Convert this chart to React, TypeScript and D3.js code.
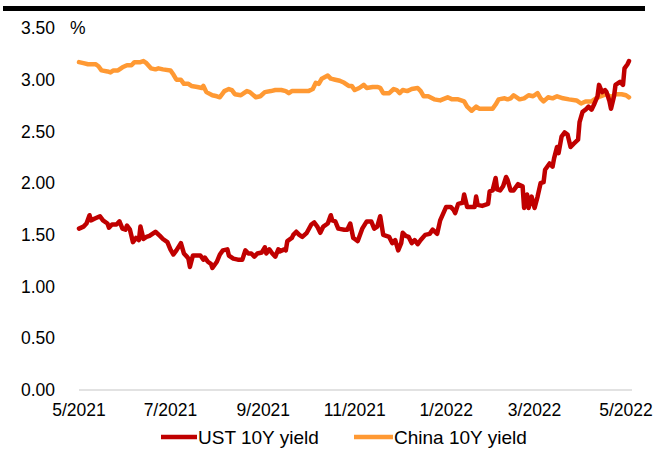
import React from "react";
import * as d3 from "d3";

const yTicks = [0, 0.5, 1, 1.5, 2, 2.5, 3, 3.5];
const xTickLabels = ["5/2021", "7/2021", "9/2021", "11/2021", "1/2022", "3/2022", "5/2022"];
const xTickDates = ["2021-05-01", "2021-07-01", "2021-09-01", "2021-11-01", "2022-01-01", "2022-03-01", "2022-05-01"];

const chinaDates = [
  "2021-05-01","2021-05-04","2021-05-07","2021-05-12","2021-05-14","2021-05-16","2021-05-20","2021-05-22","2021-05-24","2021-05-27",
  "2021-05-30","2021-06-02","2021-06-05","2021-06-07","2021-06-11","2021-06-13","2021-06-15","2021-06-18","2021-06-21","2021-06-23",
  "2021-06-26","2021-07-01","2021-07-03","2021-07-05","2021-07-08","2021-07-10","2021-07-13","2021-07-15","2021-07-19","2021-07-22",
  "2021-07-23","2021-07-25","2021-07-29","2021-08-01","2021-08-03","2021-08-06","2021-08-09","2021-08-11","2021-08-13","2021-08-17",
  "2021-08-19","2021-08-21","2021-08-23","2021-08-27","2021-08-30","2021-09-02","2021-09-06","2021-09-09","2021-09-13","2021-09-16",
  "2021-09-18","2021-09-20","2021-09-25","2021-10-01","2021-10-04","2021-10-06","2021-10-08","2021-10-10","2021-10-14","2021-10-16",
  "2021-10-19","2021-10-22","2021-10-25","2021-10-28","2021-10-30","2021-11-01","2021-11-04","2021-11-07","2021-11-09","2021-11-13",
  "2021-11-16","2021-11-18","2021-11-20","2021-11-24","2021-11-27","2021-11-29","2021-12-01","2021-12-03","2021-12-06","2021-12-09",
  "2021-12-13","2021-12-15","2021-12-17","2021-12-20","2021-12-24","2021-12-28","2022-01-02","2022-01-05","2022-01-09","2022-01-13",
  "2022-01-15","2022-01-18","2022-01-21","2022-01-23","2022-01-27","2022-02-01","2022-02-03","2022-02-05","2022-02-09","2022-02-11",
  "2022-02-13","2022-02-15","2022-02-19","2022-02-22","2022-02-25","2022-02-28","2022-03-03","2022-03-05","2022-03-07","2022-03-10",
  "2022-03-13","2022-03-16","2022-03-20","2022-03-24","2022-03-29","2022-04-01","2022-04-04","2022-04-08","2022-04-11","2022-04-14",
  "2022-04-18","2022-04-21","2022-04-24","2022-04-28","2022-05-01","2022-05-03"
];
const chinaValues = [
  3.17,3.16,3.15,3.15,3.13,3.09,3.08,3.07,3.09,3.09,
  3.12,3.14,3.14,3.17,3.17,3.18,3.16,3.11,3.10,3.11,
  3.10,3.09,3.05,3.00,3.00,2.96,2.96,2.94,2.93,2.92,
  2.94,2.88,2.85,2.84,2.83,2.89,2.91,2.90,2.86,2.85,
  2.87,2.89,2.88,2.83,2.84,2.88,2.89,2.90,2.90,2.89,
  2.87,2.89,2.89,2.89,2.91,2.97,2.96,3.01,3.04,3.01,
  3.00,2.99,2.97,2.94,2.94,2.90,2.92,2.95,2.92,2.93,
  2.93,2.92,2.87,2.87,2.91,2.90,2.87,2.90,2.89,2.91,
  2.92,2.89,2.84,2.84,2.81,2.80,2.83,2.81,2.81,2.79,
  2.74,2.70,2.74,2.72,2.72,2.72,2.76,2.81,2.82,2.81,
  2.82,2.85,2.81,2.82,2.85,2.84,2.87,2.82,2.79,2.83,
  2.82,2.84,2.82,2.81,2.80,2.77,2.79,2.79,2.82,2.84,
  2.86,2.83,2.86,2.86,2.85,2.83
];

const ustDates = [
  "2021-05-01","2021-05-04","2021-05-06","2021-05-08","2021-05-09","2021-05-12","2021-05-15","2021-05-17","2021-05-20","2021-05-21",
  "2021-05-23","2021-05-26","2021-05-28","2021-05-30","2021-06-01","2021-06-02","2021-06-04","2021-06-06","2021-06-08","2021-06-10",
  "2021-06-11","2021-06-13","2021-06-15","2021-06-17","2021-06-20","2021-06-21","2021-06-24","2021-06-26","2021-06-29","2021-07-01",
  "2021-07-03","2021-07-05","2021-07-08","2021-07-10","2021-07-12","2021-07-13","2021-07-14","2021-07-16","2021-07-19","2021-07-21",
  "2021-07-23","2021-07-24","2021-07-26","2021-07-28","2021-07-29","2021-08-01","2021-08-03","2021-08-05","2021-08-08","2021-08-09",
  "2021-08-12","2021-08-15","2021-08-18","2021-08-20","2021-08-22","2021-08-24","2021-08-26","2021-08-28","2021-08-31","2021-09-02",
  "2021-09-03","2021-09-05","2021-09-07","2021-09-09","2021-09-11","2021-09-12","2021-09-15","2021-09-16","2021-09-17","2021-09-20",
  "2021-09-21","2021-09-23","2021-09-25","2021-09-27","2021-09-30","2021-10-03","2021-10-05","2021-10-07","2021-10-09","2021-10-11",
  "2021-10-14","2021-10-16","2021-10-17","2021-10-19","2021-10-21","2021-10-25","2021-10-27","2021-10-29","2021-10-31","2021-11-01",
  "2021-11-03","2021-11-06","2021-11-09","2021-11-12","2021-11-14","2021-11-16","2021-11-18","2021-11-20","2021-11-24","2021-11-26",
  "2021-11-28","2021-11-30","2021-12-02","2021-12-03","2021-12-05","2021-12-07","2021-12-09","2021-12-11","2021-12-13","2021-12-15",
  "2021-12-18","2021-12-21","2021-12-23","2021-12-26","2021-12-28","2022-01-01","2022-01-04","2022-01-06","2022-01-07","2022-01-09",
  "2022-01-12","2022-01-13","2022-01-15","2022-01-17","2022-01-20","2022-01-21","2022-01-22","2022-01-25","2022-01-29","2022-01-30",
  "2022-02-01","2022-02-03","2022-02-04","2022-02-06","2022-02-08","2022-02-10","2022-02-11","2022-02-13","2022-02-15","2022-02-18",
  "2022-02-21","2022-02-22","2022-02-24","2022-02-25","2022-02-27","2022-03-01","2022-03-03","2022-03-05","2022-03-07","2022-03-08",
  "2022-03-11","2022-03-13","2022-03-14","2022-03-16","2022-03-17","2022-03-19","2022-03-21","2022-03-23","2022-03-25","2022-03-27",
  "2022-03-30","2022-03-31","2022-04-02","2022-04-04","2022-04-06","2022-04-08","2022-04-10","2022-04-12","2022-04-13","2022-04-15",
  "2022-04-17","2022-04-18","2022-04-20","2022-04-21","2022-04-23","2022-04-24","2022-04-27","2022-04-29","2022-04-30","2022-05-02",
  "2022-05-03"
];
const ustValues = [
  1.56,1.58,1.61,1.69,1.64,1.66,1.68,1.64,1.61,1.57,
  1.60,1.60,1.63,1.56,1.55,1.59,1.55,1.43,1.47,1.45,
  1.58,1.46,1.48,1.49,1.52,1.53,1.49,1.46,1.43,1.36,
  1.31,1.35,1.42,1.32,1.29,1.27,1.19,1.30,1.30,1.30,
  1.26,1.28,1.24,1.22,1.18,1.24,1.31,1.35,1.36,1.30,
  1.27,1.26,1.26,1.35,1.32,1.32,1.29,1.32,1.33,1.38,
  1.32,1.36,1.32,1.29,1.36,1.34,1.36,1.35,1.44,1.47,
  1.50,1.53,1.50,1.48,1.52,1.60,1.62,1.58,1.52,1.58,
  1.61,1.69,1.64,1.63,1.56,1.55,1.55,1.61,1.47,1.46,
  1.44,1.56,1.63,1.63,1.56,1.58,1.68,1.50,1.48,1.42,
  1.45,1.35,1.42,1.52,1.49,1.48,1.42,1.45,1.41,1.45,
  1.50,1.51,1.55,1.51,1.64,1.77,1.77,1.74,1.71,1.80,
  1.81,1.89,1.77,1.77,1.77,1.87,1.79,1.78,1.80,1.92,
  1.93,2.05,1.94,1.93,1.97,2.06,2.03,1.93,1.93,1.99,
  1.97,1.76,1.89,1.76,1.87,1.76,1.87,2.00,2.01,2.13,
  2.19,2.16,2.24,2.35,2.29,2.45,2.49,2.47,2.35,2.38,
  2.42,2.59,2.69,2.71,2.74,2.71,2.77,2.84,2.95,2.88,
  2.90,2.88,2.79,2.72,2.84,2.95,2.98,2.95,3.11,3.15,
  3.18
];

const seriesNames = ["UST 10Y yield", "China 10Y yield"];
const seriesColors = ["#C00000", "#FF9933"];

const W = 653;
const H = 463;
const FONT = "'Liberation Sans', Arial, sans-serif";

export default function App() {
  const parse = d3.timeParse("%Y-%m-%d");
  const x = d3
    .scaleTime()
    .domain([parse("2021-05-01") as Date, parse("2022-05-05") as Date])
    .range([79, 632]);
  const y = d3.scaleLinear().domain([0, 3.5]).range([390, 28]);

  const ust = ustDates.map((d, i) => ({ date: parse(d) as Date, v: ustValues[i] }));
  const china = chinaDates.map((d, i) => ({ date: parse(d) as Date, v: chinaValues[i] }));
  const line = d3
    .line<{ date: Date; v: number }>()
    .x((d) => x(d.date))
    .y((d) => y(d.v));

  const legendItems = [
    { x0: 161, x1: 197, tx: 198 },
    { x0: 354, x1: 393, tx: 394 },
  ];

  return (
    <svg
      width={W}
      height={H}
      style={{ position: "absolute", left: 0, top: 0, background: "#fff" }}
      fontFamily={FONT}
    >
      <rect x={0} y={0} width={W} height={H} fill="#fff" />
      <rect x={3} y={6} width={642} height={5} fill="#000" />
      <line x1={79} x2={632} y1={y(0)} y2={y(0)} stroke="#D9D9D9" strokeWidth={1.5} />
      {yTicks.map((t) => (
        <text key={t} x={55} y={y(t)} dy="0.35em" textAnchor="end" fontSize={17.5} fill="#000">
          {t.toFixed(2)}
        </text>
      ))}
      <text x={70} y={y(3.5)} dy="0.35em" fontSize={17.5} fill="#000">%</text>
      {xTickDates.map((d, i) => (
        <text key={d} x={x(parse(d) as Date)} y={410} dy="0.35em" textAnchor="middle" fontSize={17.5} fill="#000">
          {xTickLabels[i]}
        </text>
      ))}
      <path d={line(china) || ""} fill="none" stroke={seriesColors[1]} strokeWidth={4.5} strokeLinejoin="round" strokeLinecap="round" />
      <path d={line(ust) || ""} fill="none" stroke={seriesColors[0]} strokeWidth={4.5} strokeLinejoin="round" strokeLinecap="round" />
      {legendItems.map((l, i) => (
        <g key={i}>
          <line x1={l.x0} x2={l.x1} y1={437} y2={437} stroke={seriesColors[i]} strokeWidth={4.5} />
          <text x={l.tx} y={437} dy="0.35em" fontSize={19} fill="#000">{seriesNames[i]}</text>
        </g>
      ))}
    </svg>
  );
}
